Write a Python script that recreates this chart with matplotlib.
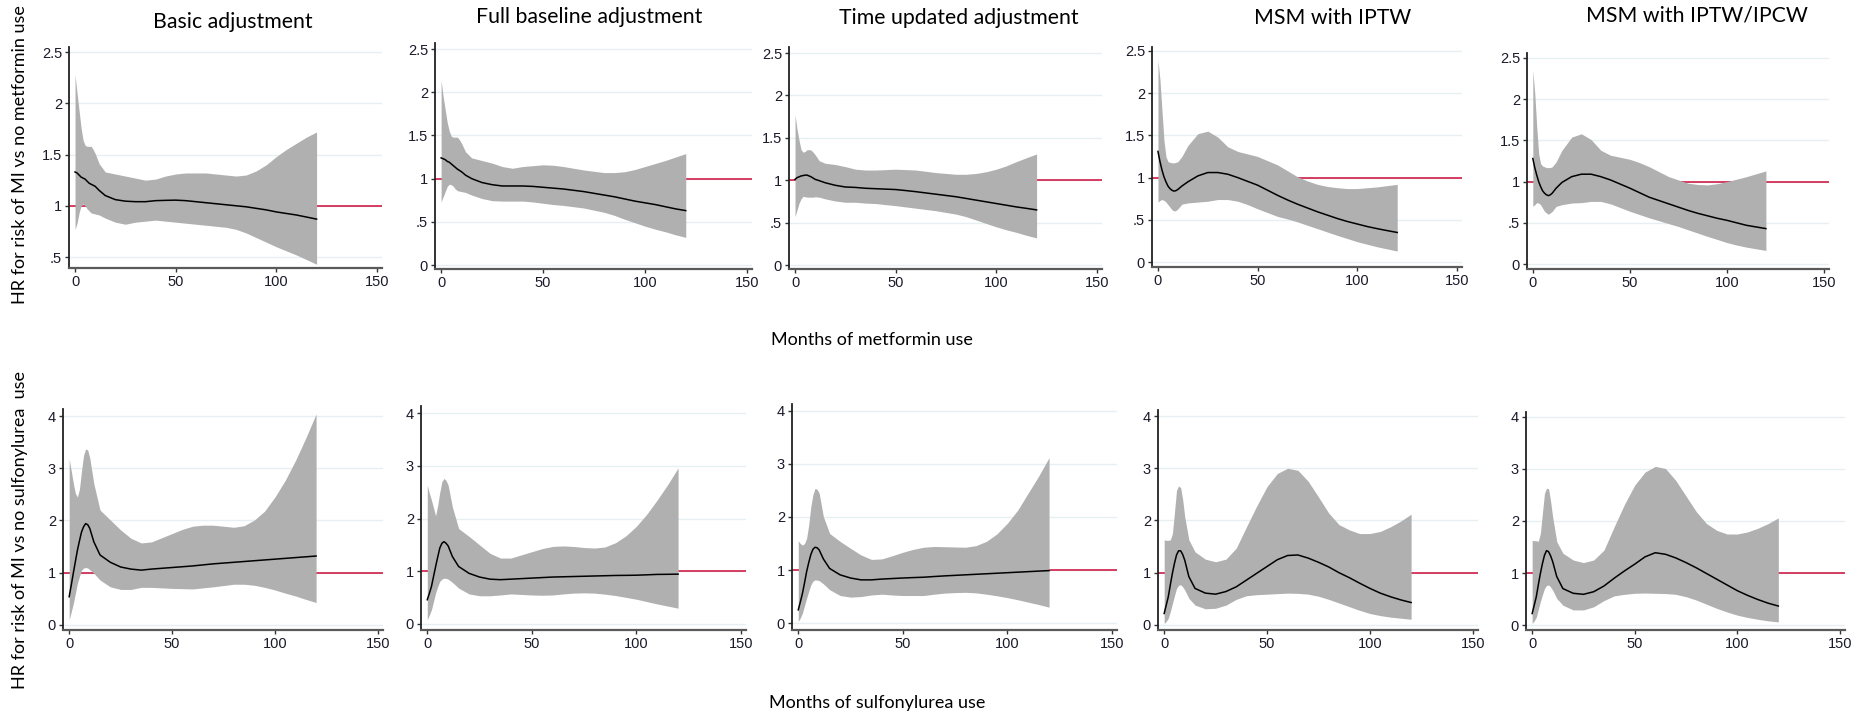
import numpy as np
import matplotlib
matplotlib.use('Agg')
import matplotlib.pyplot as plt

W, H = 1865, 718

months = [0, 1, 2, 3, 4, 5, 6, 7, 8, 9, 10, 12, 15, 20, 25, 30, 35, 40, 45, 50, 55, 60,
          65, 70, 75, 80, 85, 90, 95, 100, 105, 110, 115, 120]

titles = ['Basic adjustment', 'Full baseline adjustment', 'Time updated adjustment',
          'MSM with IPTW', 'MSM with IPTW/IPCW']

# metformin (top row): estimate, upper CI, lower CI
met_basic_est = [1.33, 1.32, 1.30, 1.28, 1.27, 1.26, 1.24, 1.22, 1.21, 1.20, 1.19, 1.15, 1.10, 1.06, 1.045, 1.04, 1.04, 1.05,
                 1.053, 1.055, 1.05, 1.04, 1.03, 1.02, 1.01, 1.00, 0.99, 0.975, 0.96, 0.94, 0.925, 0.91, 0.89, 0.87]
met_basic_hi = [2.28, 2.10, 1.93, 1.76, 1.64, 1.59, 1.58, 1.58, 1.58, 1.55, 1.51, 1.41, 1.33, 1.31, 1.29, 1.27, 1.25, 1.26,
                1.29, 1.31, 1.32, 1.32, 1.32, 1.31, 1.30, 1.29, 1.30, 1.34, 1.40, 1.48, 1.55, 1.61, 1.67, 1.72]
met_basic_lo = [0.77, 0.83, 0.93, 1.00, 1.02, 1.00, 0.97, 0.95, 0.93, 0.925, 0.92, 0.91, 0.88, 0.84, 0.82, 0.84, 0.85, 0.86,
                0.85, 0.84, 0.83, 0.82, 0.81, 0.80, 0.79, 0.77, 0.735, 0.69, 0.645, 0.60, 0.56, 0.52, 0.475, 0.43]

met_full_est = [1.24, 1.23, 1.22, 1.20, 1.19, 1.17, 1.15, 1.13, 1.11, 1.095, 1.08, 1.04, 1.00, 0.955, 0.93, 0.915, 0.915, 0.915,
                0.91, 0.90, 0.89, 0.88, 0.865, 0.85, 0.83, 0.81, 0.79, 0.765, 0.74, 0.72, 0.70, 0.675, 0.65, 0.63]
met_full_hi = [2.14, 1.95, 1.80, 1.65, 1.55, 1.49, 1.48, 1.48, 1.48, 1.45, 1.41, 1.31, 1.24, 1.21, 1.18, 1.14, 1.12, 1.14,
               1.15, 1.16, 1.155, 1.14, 1.12, 1.10, 1.085, 1.07, 1.07, 1.08, 1.105, 1.14, 1.175, 1.21, 1.25, 1.29]
met_full_lo = [0.73, 0.79, 0.85, 0.91, 0.935, 0.93, 0.91, 0.88, 0.86, 0.855, 0.85, 0.84, 0.81, 0.77, 0.745, 0.74, 0.74, 0.74,
               0.73, 0.715, 0.70, 0.69, 0.675, 0.66, 0.635, 0.61, 0.575, 0.53, 0.49, 0.45, 0.415, 0.385, 0.35, 0.32]

met_time_est = [1.01, 1.03, 1.04, 1.05, 1.055, 1.06, 1.06, 1.05, 1.04, 1.025, 1.01, 0.995, 0.97, 0.94, 0.92, 0.915, 0.905, 0.90,
                0.895, 0.89, 0.878, 0.865, 0.85, 0.835, 0.82, 0.805, 0.785, 0.765, 0.745, 0.725, 0.705, 0.685, 0.668, 0.65]
met_time_hi = [1.77, 1.60, 1.47, 1.36, 1.33, 1.34, 1.36, 1.36, 1.355, 1.33, 1.30, 1.23, 1.20, 1.185, 1.16, 1.13, 1.12, 1.12,
               1.125, 1.13, 1.125, 1.12, 1.105, 1.09, 1.08, 1.07, 1.07, 1.08, 1.10, 1.13, 1.17, 1.22, 1.265, 1.31]
met_time_lo = [0.57, 0.65, 0.73, 0.78, 0.81, 0.805, 0.80, 0.80, 0.80, 0.80, 0.805, 0.80, 0.78, 0.755, 0.74, 0.74, 0.73, 0.725,
               0.712, 0.70, 0.685, 0.67, 0.655, 0.64, 0.62, 0.60, 0.57, 0.53, 0.49, 0.45, 0.415, 0.385, 0.35, 0.32]

met_iptw_est = [1.31, 1.19, 1.09, 1.01, 0.95, 0.90, 0.87, 0.85, 0.84, 0.845, 0.86, 0.90, 0.95, 1.02, 1.06, 1.06, 1.04, 1.00,
                0.955, 0.91, 0.85, 0.79, 0.735, 0.685, 0.64, 0.595, 0.555, 0.515, 0.48, 0.45, 0.42, 0.395, 0.372, 0.35]
met_iptw_hi = [2.39, 2.16, 1.80, 1.44, 1.25, 1.19, 1.18, 1.175, 1.175, 1.18, 1.19, 1.25, 1.38, 1.52, 1.55, 1.48, 1.365, 1.31,
               1.28, 1.25, 1.20, 1.15, 1.08, 1.01, 0.96, 0.92, 0.895, 0.88, 0.87, 0.87, 0.88, 0.89, 0.905, 0.92]
met_iptw_lo = [0.71, 0.73, 0.74, 0.73, 0.71, 0.68, 0.65, 0.62, 0.605, 0.61, 0.63, 0.685, 0.70, 0.71, 0.72, 0.74, 0.74, 0.72,
               0.68, 0.63, 0.585, 0.54, 0.51, 0.475, 0.435, 0.395, 0.355, 0.315, 0.278, 0.24, 0.21, 0.18, 0.155, 0.13]

met_ipcw_est = [1.28, 1.17, 1.08, 1.00, 0.94, 0.89, 0.86, 0.84, 0.83, 0.84, 0.86, 0.92, 0.99, 1.06, 1.09, 1.09, 1.06, 1.02,
                0.97, 0.92, 0.865, 0.81, 0.77, 0.73, 0.69, 0.65, 0.615, 0.585, 0.555, 0.53, 0.50, 0.47, 0.45, 0.43]
met_ipcw_hi = [2.35, 2.07, 1.67, 1.34, 1.22, 1.19, 1.18, 1.17, 1.17, 1.17, 1.18, 1.24, 1.38, 1.54, 1.58, 1.51, 1.38, 1.32,
               1.295, 1.27, 1.23, 1.18, 1.12, 1.06, 1.02, 0.98, 0.965, 0.96, 0.975, 1.00, 1.03, 1.06, 1.095, 1.13]
met_ipcw_lo = [0.70, 0.72, 0.745, 0.74, 0.72, 0.68, 0.64, 0.62, 0.605, 0.62, 0.64, 0.70, 0.72, 0.74, 0.745, 0.76, 0.76, 0.73,
               0.685, 0.64, 0.60, 0.56, 0.525, 0.49, 0.455, 0.415, 0.375, 0.335, 0.298, 0.26, 0.23, 0.205, 0.185, 0.165]

# sulfonylurea (bottom row)
su_basic_est = [0.54, 0.76, 0.99, 1.21, 1.43, 1.61, 1.78, 1.88, 1.94, 1.92, 1.85, 1.59, 1.34, 1.20, 1.11, 1.07, 1.05, 1.07,
                1.085, 1.10, 1.115, 1.13, 1.15, 1.17, 1.185, 1.20, 1.215, 1.23, 1.245, 1.26, 1.275, 1.29, 1.305, 1.32]
su_basic_hi = [3.18, 2.95, 2.72, 2.52, 2.45, 2.60, 2.95, 3.25, 3.37, 3.35, 3.20, 2.70, 2.20, 2.01, 1.82, 1.66, 1.57, 1.59,
               1.67, 1.75, 1.83, 1.89, 1.91, 1.91, 1.89, 1.87, 1.90, 2.01, 2.18, 2.45, 2.77, 3.15, 3.58, 4.04]
su_basic_lo = [0.10, 0.25, 0.41, 0.60, 0.80, 0.93, 1.05, 1.09, 1.10, 1.09, 1.06, 0.99, 0.86, 0.73, 0.68, 0.68, 0.72, 0.72,
               0.71, 0.70, 0.695, 0.69, 0.71, 0.73, 0.755, 0.78, 0.78, 0.76, 0.72, 0.67, 0.61, 0.555, 0.49, 0.43]

su_full_est = [0.46, 0.58, 0.71, 0.90, 1.09, 1.27, 1.44, 1.53, 1.56, 1.53, 1.48, 1.28, 1.09, 0.96, 0.89, 0.85, 0.84, 0.85,
               0.86, 0.87, 0.88, 0.89, 0.895, 0.90, 0.905, 0.91, 0.915, 0.92, 0.922, 0.925, 0.932, 0.94, 0.942, 0.945]
su_full_hi = [2.63, 2.48, 2.35, 2.20, 2.05, 2.25, 2.50, 2.70, 2.76, 2.72, 2.63, 2.22, 1.81, 1.66, 1.50, 1.34, 1.25, 1.25,
              1.31, 1.37, 1.43, 1.47, 1.48, 1.47, 1.45, 1.44, 1.46, 1.54, 1.67, 1.85, 2.08, 2.35, 2.64, 2.96]
su_full_lo = [0.08, 0.17, 0.27, 0.43, 0.59, 0.71, 0.81, 0.85, 0.87, 0.865, 0.85, 0.79, 0.68, 0.57, 0.535, 0.535, 0.55, 0.57,
              0.56, 0.55, 0.545, 0.55, 0.57, 0.585, 0.59, 0.585, 0.565, 0.54, 0.505, 0.47, 0.425, 0.38, 0.34, 0.30]

su_time_est = [0.25, 0.40, 0.56, 0.76, 0.97, 1.14, 1.29, 1.39, 1.43, 1.42, 1.38, 1.21, 1.03, 0.91, 0.85, 0.815, 0.815, 0.83,
               0.84, 0.85, 0.858, 0.865, 0.878, 0.89, 0.90, 0.91, 0.92, 0.93, 0.94, 0.95, 0.96, 0.97, 0.98, 0.99]
su_time_hi = [1.55, 1.50, 1.47, 1.50, 1.60, 1.85, 2.19, 2.42, 2.54, 2.52, 2.45, 2.01, 1.69, 1.54, 1.41, 1.285, 1.20, 1.21,
              1.27, 1.335, 1.39, 1.43, 1.445, 1.44, 1.435, 1.43, 1.46, 1.54, 1.68, 1.88, 2.13, 2.45, 2.77, 3.12]
su_time_lo = [0.03, 0.10, 0.19, 0.33, 0.47, 0.60, 0.72, 0.79, 0.815, 0.81, 0.80, 0.74, 0.63, 0.52, 0.49, 0.50, 0.53, 0.545,
              0.53, 0.52, 0.52, 0.52, 0.545, 0.565, 0.575, 0.58, 0.57, 0.545, 0.515, 0.48, 0.44, 0.395, 0.35, 0.30]

su_iptw_est = [0.22, 0.38, 0.54, 0.77, 0.99, 1.18, 1.34, 1.42, 1.42, 1.35, 1.24, 0.925, 0.70, 0.61, 0.59, 0.64, 0.73, 0.86,
               0.99, 1.12, 1.25, 1.33, 1.34, 1.28, 1.20, 1.11, 1.00, 0.905, 0.80, 0.70, 0.61, 0.54, 0.48, 0.43]
su_iptw_hi = [1.63, 1.62, 1.62, 1.63, 1.75, 2.15, 2.58, 2.66, 2.63, 2.40, 2.07, 1.63, 1.40, 1.26, 1.21, 1.26, 1.47, 1.88,
              2.28, 2.65, 2.90, 3.00, 2.96, 2.75, 2.45, 2.14, 1.92, 1.82, 1.75, 1.75, 1.79, 1.88, 1.99, 2.12]
su_iptw_lo = [0.03, 0.07, 0.13, 0.26, 0.41, 0.56, 0.70, 0.76, 0.77, 0.73, 0.67, 0.51, 0.38, 0.31, 0.32, 0.38, 0.49, 0.56,
              0.58, 0.59, 0.60, 0.61, 0.605, 0.59, 0.55, 0.49, 0.42, 0.35, 0.28, 0.22, 0.18, 0.15, 0.13, 0.11]

su_ipcw_est = [0.22, 0.38, 0.54, 0.77, 0.99, 1.18, 1.34, 1.43, 1.41, 1.33, 1.22, 0.93, 0.70, 0.61, 0.59, 0.64, 0.75, 0.90,
               1.04, 1.17, 1.31, 1.39, 1.36, 1.29, 1.20, 1.10, 0.99, 0.88, 0.77, 0.66, 0.57, 0.49, 0.42, 0.365]
su_ipcw_hi = [1.63, 1.62, 1.62, 1.61, 1.76, 2.15, 2.53, 2.63, 2.62, 2.38, 2.08, 1.60, 1.38, 1.25, 1.20, 1.25, 1.44, 1.89,
              2.32, 2.69, 2.94, 3.05, 3.01, 2.78, 2.48, 2.18, 1.95, 1.82, 1.75, 1.75, 1.79, 1.86, 1.95, 2.06]
su_ipcw_lo = [0.03, 0.08, 0.15, 0.30, 0.45, 0.58, 0.70, 0.76, 0.77, 0.73, 0.67, 0.51, 0.38, 0.29, 0.29, 0.35, 0.47, 0.56,
              0.59, 0.61, 0.615, 0.61, 0.605, 0.59, 0.545, 0.48, 0.40, 0.32, 0.25, 0.19, 0.145, 0.11, 0.08, 0.06]

top_series = [(met_basic_est, met_basic_lo, met_basic_hi), (met_full_est, met_full_lo, met_full_hi),
              (met_time_est, met_time_lo, met_time_hi), (met_iptw_est, met_iptw_lo, met_iptw_hi),
              (met_ipcw_est, met_ipcw_lo, met_ipcw_hi)]
bot_series = [(su_basic_est, su_basic_lo, su_basic_hi), (su_full_est, su_full_lo, su_full_hi),
              (su_time_est, su_time_lo, su_time_hi), (su_iptw_est, su_iptw_lo, su_iptw_hi),
              (su_ipcw_est, su_ipcw_lo, su_ipcw_hi)]

top_yticks = [0, 0.5, 1, 1.5, 2, 2.5]
top_ylabels = ['0', '.5', '1', '1.5', '2', '2.5']
bot_yticks = [0, 1, 2, 3, 4]
bot_ylabels = ['0', '1', '2', '3', '4']
xticks = [0, 50, 100, 150]

# panel boxes in pixels: left, right, top, bottom
top_boxes = [(69, 382, 47, 268), (435, 752, 43, 269), (789, 1102, 47, 269),
             (1152, 1462, 47, 267), (1527, 1829, 53, 269)]
top_ylims = [(0.393, 2.549), (-0.046, 2.57), (-0.047, 2.571), (-0.059, 2.547), (-0.06, 2.56)]
bot_boxes = [(63, 383, 409, 630), (421, 746, 406, 630), (792, 1117, 404, 630),
             (1158, 1478, 410, 630), (1526, 1845, 412, 630)]
bot_ylims = [(-0.096, 4.134), (-0.114, 4.133), (-0.13, 4.13), (-0.096, 4.115), (-0.096, 4.096)]
title_pos = [(233, 22), (589, 17), (959, 18), (1333, 18), (1697, 16)]

tick_font = 'Liberation Sans'
text_font = 'Lato'

fig = plt.figure(figsize=(W / 100, H / 100), dpi=100)


def panel(box, ylim, series, yticks, ylabels):
    l, r, t, b = box
    ax = fig.add_axes([l / W, 1 - b / H, (r - l) / W, (b - t) / H])
    est, lo, hi = series
    for y in yticks:
        ax.axhline(y, color='#E6EFF1', lw=1, zorder=0)
    ax.axhline(1, color='#CF1F48', lw=1.2, zorder=1)
    ax.fill_between(months, lo, hi, color='#B0B0B0', lw=0, zorder=2)
    ax.plot(months, est, color='black', lw=1.1, zorder=3)
    ax.set_xticks(xticks)
    ax.set_yticks(yticks)
    ax.set_yticklabels(ylabels)
    ax.set_xlim(-3, 152.5)
    ax.set_ylim(*ylim)
    for s in ['top', 'right']:
        ax.spines[s].set_visible(False)
    ax.spines['left'].set_color('#222222')
    ax.spines['left'].set_linewidth(1.3)
    ax.spines['bottom'].set_color('#5a5a5a')
    ax.spines['bottom'].set_linewidth(1.6)
    ax.tick_params(axis='both', length=3, width=1, color='#333333', labelsize=10.5,
                   labelcolor='#1a1a2a', pad=2)
    for lab in ax.get_xticklabels() + ax.get_yticklabels():
        lab.set_fontfamily(tick_font)
    ax.set_facecolor('none')
    return ax


for i in range(5):
    panel(top_boxes[i], top_ylims[i], top_series[i], top_yticks, top_ylabels)
    panel(bot_boxes[i], bot_ylims[i], bot_series[i], bot_yticks, bot_ylabels)
    x, y = title_pos[i]
    fig.text(x / W, 1 - y / H, titles[i], ha='center', va='center', fontsize=15.3, family=text_font)

fig.text(20 / W, 1 - 155 / H, 'HR for risk of MI vs no metformin use', rotation=90,
         ha='center', va='center', fontsize=13, family=text_font)
fig.text(20 / W, 1 - 530 / H, 'HR for risk of MI vs no sulfonylurea  use', rotation=90,
         ha='center', va='center', fontsize=13, family=text_font)
fig.text(872 / W, 1 - 340 / H, 'Months of metformin use', ha='center', va='center',
         fontsize=13, family=text_font)
fig.text(877 / W, 1 - 703 / H, 'Months of sulfonylurea use', ha='center', va='center',
         fontsize=13, family=text_font)

fig.savefig('out.png', dpi=100, facecolor='white')
